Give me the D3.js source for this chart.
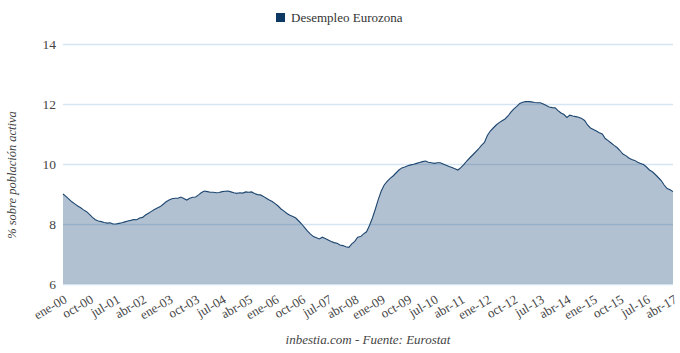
<!DOCTYPE html>
<html>
<head>
<meta charset="utf-8">
<script src="https://cdn.jsdelivr.net/npm/d3@7"></script>
<style>
  body { margin: 0; background: #fff; }
  svg { display: block; }
  svg text { font-family: "Liberation Serif", "Times New Roman", serif; }
</style>
</head>
<body>
<svg></svg>
<script>
var seriesName = "Desempleo Eurozona";
var startYear = 2000;

// tasa de paro mensual, ene-00 .. abr-17
var paro2000 = [9.0, 8.92, 8.83, 8.74, 8.67, 8.6, 8.54, 8.47, 8.41, 8.32, 8.22, 8.14];
var paro2001 = [8.1, 8.08, 8.05, 8.03, 8.04, 8.0, 8.0, 8.02, 8.04, 8.07, 8.1, 8.12];
var paro2002 = [8.15, 8.14, 8.2, 8.22, 8.3, 8.36, 8.42, 8.48, 8.53, 8.58, 8.66, 8.74];
var paro2003 = [8.8, 8.84, 8.86, 8.86, 8.9, 8.85, 8.8, 8.86, 8.89, 8.9, 8.97, 9.05];
var paro2004 = [9.1, 9.08, 9.06, 9.06, 9.04, 9.05, 9.08, 9.09, 9.1, 9.07, 9.04, 9.02];
var paro2005 = [9.04, 9.03, 9.07, 9.06, 9.07, 9.02, 8.98, 8.97, 8.92, 8.86, 8.8, 8.75];
var paro2006 = [8.68, 8.6, 8.5, 8.43, 8.35, 8.29, 8.25, 8.2, 8.1, 8.0, 7.88, 7.76];
var paro2007 = [7.66, 7.58, 7.54, 7.5, 7.56, 7.52, 7.47, 7.42, 7.38, 7.36, 7.3, 7.28];
var paro2008 = [7.24, 7.22, 7.34, 7.42, 7.56, 7.58, 7.67, 7.74, 7.95, 8.2, 8.5, 8.82];
var paro2009 = [9.1, 9.3, 9.42, 9.52, 9.6, 9.7, 9.8, 9.87, 9.9, 9.94, 9.97, 9.99];
var paro2010 = [10.02, 10.05, 10.08, 10.1, 10.06, 10.04, 10.02, 10.04, 10.04, 10.0, 9.96, 9.92];
var paro2011 = [9.88, 9.84, 9.8, 9.88, 9.98, 10.1, 10.2, 10.3, 10.4, 10.5, 10.62, 10.72];
var paro2012 = [10.95, 11.1, 11.2, 11.3, 11.38, 11.44, 11.5, 11.6, 11.73, 11.84, 11.92, 12.02];
var paro2013 = [12.06, 12.08, 12.08, 12.07, 12.05, 12.04, 12.04, 12.0, 11.95, 11.9, 11.88, 11.87];
var paro2014 = [11.78, 11.7, 11.65, 11.55, 11.63, 11.6, 11.58, 11.56, 11.52, 11.45, 11.3, 11.2];
var paro2015 = [11.15, 11.1, 11.04, 11.0, 10.85, 10.78, 10.7, 10.62, 10.55, 10.45, 10.33, 10.28];
var paro2016 = [10.2, 10.15, 10.12, 10.06, 10.02, 9.98, 9.9, 9.8, 9.74, 9.65, 9.55, 9.45];
var paro2017 = [9.3, 9.18, 9.14, 9.08];

var yTicks = [6, 8, 10, 12, 14];
var monthNames = ["ene", "feb", "mar", "abr", "may", "jun", "jul", "ago", "sep", "oct", "nov", "dic"];
var tickStep = 9; // una etiqueta cada 9 meses

var values = [].concat(paro2000, paro2001, paro2002, paro2003, paro2004, paro2005,
  paro2006, paro2007, paro2008, paro2009, paro2010, paro2011, paro2012, paro2013,
  paro2014, paro2015, paro2016, paro2017);

var data = values.map(function(v, i) { return { i: i, v: v }; });

function monthLabel(i) {
  var y = startYear + Math.floor(i / 12);
  return monthNames[i % 12] + "-" + String(y % 100).padStart(2, "0");
}

var serif = "Liberation Serif, Times New Roman, serif";

var width = 680,
    height = 353,
    margin = { top: 44, right: 7, bottom: 69, left: 63 };

var svg = d3.select("svg")
    .attr("width", width)
    .attr("height", height);

var x = d3.scaleLinear()
    .domain([0, values.length - 1])
    .range([margin.left, width - margin.right]);

var y = d3.scaleLinear()
    .domain([6, 14])
    .range([height - margin.bottom, margin.top]);

// grid
svg.append("g")
  .selectAll("line")
  .data(yTicks)
  .enter().append("line")
    .attr("x1", x.range()[0])
    .attr("x2", x.range()[1])
    .attr("y1", function(d) { return Math.round(y(d)) + 0.5; })
    .attr("y2", function(d) { return Math.round(y(d)) + 0.5; })
    .attr("stroke", "#d6e5f4")
    .attr("stroke-width", 1.5);

// y axis labels
var yAxis = d3.axisLeft(y).tickValues(yTicks).tickSize(0).tickPadding(7);
svg.append("g")
    .attr("transform", "translate(" + margin.left + ",0)")
    .call(yAxis)
    .attr("font-family", serif)
    .call(function(g) { g.select(".domain").remove(); })
    .selectAll("text")
    .attr("font-size", 13.5)
    .attr("fill", "#444");

// area + line
var area = d3.area()
    .x(function(d) { return x(d.i); })
    .y0(y(6))
    .y1(function(d) { return y(d.v); });

var line = d3.line()
    .x(function(d) { return x(d.i); })
    .y(function(d) { return y(d.v); });

svg.append("path")
    .datum(data)
    .attr("d", area)
    .attr("fill", "#003366")
    .attr("fill-opacity", 0.3);

svg.append("path")
    .datum(data)
    .attr("d", line)
    .attr("fill", "none")
    .attr("stroke", "#1d4670")
    .attr("stroke-width", 1.1);

// x axis labels
var xTickVals = d3.range(0, values.length, tickStep);
var xAxis = d3.axisBottom(x).tickValues(xTickVals).tickSize(0).tickPadding(0).tickFormat(monthLabel);
svg.append("g")
    .attr("transform", "translate(2," + (y(6) + 14) + ")")
    .call(xAxis)
    .attr("font-family", serif)
    .call(function(g) { g.select(".domain").remove(); })
    .selectAll("text")
    .attr("font-size", 13)
    .attr("fill", "#444")
    .attr("text-anchor", "end")
    .attr("dy", "0.35em")
    .attr("transform", "rotate(-30)");

// axis title
svg.append("text")
    .attr("transform", "translate(16,175) rotate(-90)")
    .attr("text-anchor", "middle")
    .attr("font-style", "italic")
    .attr("font-size", 12.5)
    .attr("fill", "#444")
    .text("% sobre población activa");

// legend
var legend = svg.append("g").attr("transform", "translate(276,13)");
legend.append("rect")
    .attr("width", 9)
    .attr("height", 9)
    .attr("fill", "#0d3863");
legend.append("text")
    .attr("x", 15)
    .attr("y", 9)
    .attr("font-size", 13)
    .attr("fill", "#333")
    .text(seriesName);

// source
svg.append("text")
    .attr("x", (x.range()[0] + x.range()[1]) / 2)
    .attr("y", 344)
    .attr("text-anchor", "middle")
    .attr("font-style", "italic")
    .attr("font-size", 13)
    .attr("fill", "#444")
    .text("inbestia.com - Fuente: Eurostat");
</script>
</body>
</html>
